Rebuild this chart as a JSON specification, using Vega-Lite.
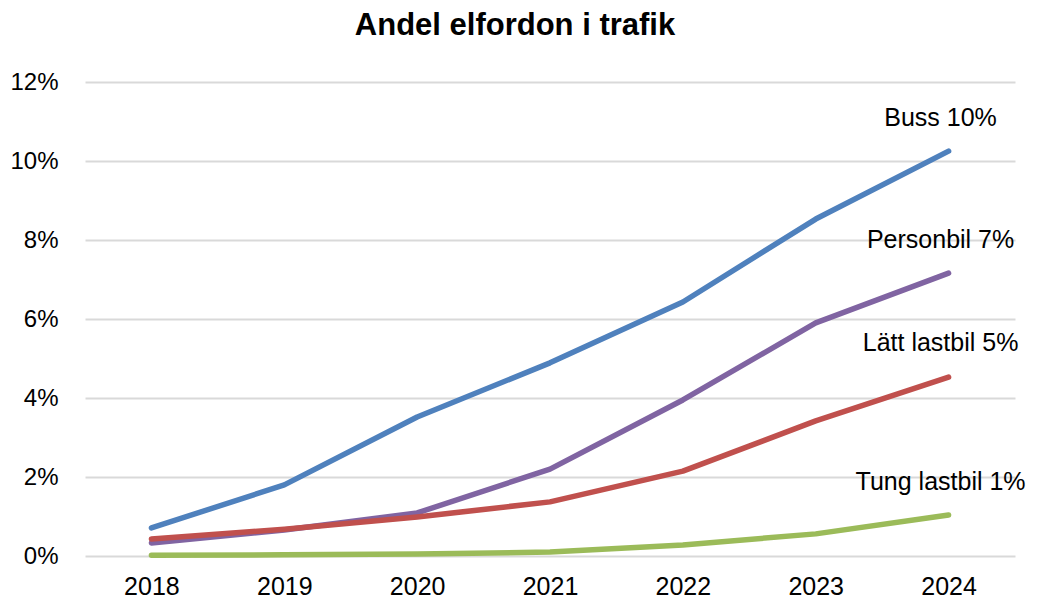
{
  "$schema": "https://vega.github.io/schema/vega-lite/v6.json",
  "autosize": "none",
  "width": 930,
  "height": 474,
  "padding": {"left": 85, "top": 82, "right": 25, "bottom": 42},
  "background": "white",
  "config": {
    "font": "Liberation Sans",
    "view": {"stroke": null}
  },
  "title": {
    "text": "Andel elfordon i trafik",
    "fontSize": 31,
    "fontWeight": "bold",
    "font": "Liberation Sans",
    "color": "#000000",
    "anchor": "middle",
    "dx": -35,
    "offset": 28
  },
  "datasets": {
    "series": [
      {"year": "2018", "series": "Buss", "value": 0.0071},
      {"year": "2019", "series": "Buss", "value": 0.0180},
      {"year": "2020", "series": "Buss", "value": 0.0352},
      {"year": "2021", "series": "Buss", "value": 0.0489},
      {"year": "2022", "series": "Buss", "value": 0.0643},
      {"year": "2023", "series": "Buss", "value": 0.0853},
      {"year": "2024", "series": "Buss", "value": 0.1025},
      {"year": "2018", "series": "Personbil", "value": 0.0033},
      {"year": "2019", "series": "Personbil", "value": 0.0066},
      {"year": "2020", "series": "Personbil", "value": 0.0109},
      {"year": "2021", "series": "Personbil", "value": 0.0220},
      {"year": "2022", "series": "Personbil", "value": 0.0395},
      {"year": "2023", "series": "Personbil", "value": 0.0590},
      {"year": "2024", "series": "Personbil", "value": 0.0716},
      {"year": "2018", "series": "Lätt lastbil", "value": 0.0043},
      {"year": "2019", "series": "Lätt lastbil", "value": 0.0068},
      {"year": "2020", "series": "Lätt lastbil", "value": 0.0099},
      {"year": "2021", "series": "Lätt lastbil", "value": 0.0137},
      {"year": "2022", "series": "Lätt lastbil", "value": 0.0215},
      {"year": "2023", "series": "Lätt lastbil", "value": 0.0342},
      {"year": "2024", "series": "Lätt lastbil", "value": 0.0453},
      {"year": "2018", "series": "Tung lastbil", "value": 0.0002},
      {"year": "2019", "series": "Tung lastbil", "value": 0.0003},
      {"year": "2020", "series": "Tung lastbil", "value": 0.0005},
      {"year": "2021", "series": "Tung lastbil", "value": 0.0010},
      {"year": "2022", "series": "Tung lastbil", "value": 0.0028},
      {"year": "2023", "series": "Tung lastbil", "value": 0.0056},
      {"year": "2024", "series": "Tung lastbil", "value": 0.0104}
    ],
    "labels": [
      {"year": "2024", "label": "Buss 10%", "value": 0.111},
      {"year": "2024", "label": "Personbil 7%", "value": 0.080},
      {"year": "2024", "label": "Lätt lastbil 5%", "value": 0.054},
      {"year": "2024", "label": "Tung lastbil 1%", "value": 0.0187}
    ]
  },
  "encoding": {
    "x": {
      "field": "year",
      "type": "ordinal",
      "scale": {"type": "point", "padding": 0.5, "domain": ["2018","2019","2020","2021","2022","2023","2024"]},
      "axis": {
        "title": null,
        "labelAngle": 0,
        "labelFontSize": 25,
        "labelColor": "#000000",
        "labelPadding": 18,
        "domain": false,
        "ticks": false,
        "grid": false
      }
    },
    "y": {
      "field": "value",
      "type": "quantitative",
      "scale": {"domain": [0, 0.12], "nice": false},
      "axis": {
        "title": null,
        "format": ".0%",
        "values": [0, 0.02, 0.04, 0.06, 0.08, 0.10, 0.12],
        "labelFontSize": 24,
        "labelColor": "#000000",
        "labelPadding": 27,
        "domain": false,
        "ticks": false,
        "grid": true,
        "gridColor": "#d9d9d9",
        "gridWidth": 2
      }
    }
  },
  "layer": [
    {
      "data": {"name": "series"},
      "mark": {"type": "line", "strokeWidth": 5.5, "strokeCap": "round", "strokeJoin": "round"},
      "encoding": {
        "color": {
          "field": "series",
          "type": "nominal",
          "scale": {
            "domain": ["Buss", "Personbil", "Lätt lastbil", "Tung lastbil"],
            "range": ["#4F81BD", "#8064A2", "#C0504D", "#9BBB59"]
          },
          "legend": null
        }
      }
    },
    {
      "data": {"name": "labels"},
      "mark": {"type": "text", "fontSize": 25, "color": "#000000", "align": "center", "baseline": "middle", "font": "Liberation Sans", "dx": -8},
      "encoding": {
        "text": {"field": "label"}
      }
    }
  ]
}
